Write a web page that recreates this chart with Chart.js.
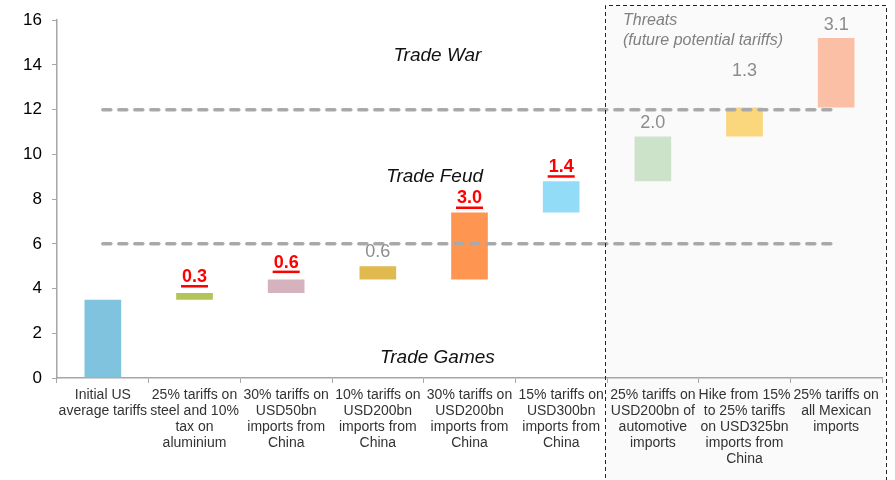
<!DOCTYPE html>
<html>
<head>
<meta charset="utf-8">
<script src="https://cdn.jsdelivr.net/npm/chart.js@4/dist/chart.umd.min.js"></script>
<style>
  html, body { margin: 0; padding: 0; background: #fff; }
  #wrap { width: 895px; height: 480px; position: relative; }
</style>
</head>
<body>
<div id="wrap"><canvas id="tariffChart"></canvas></div>
<script>
const categories = [
	['Initial US', 'average tariffs'],
	['25% tariffs on', 'steel and 10%', 'tax on', 'aluminium'],
	['30% tariffs on', 'USD50bn', 'imports from', 'China'],
	['10% tariffs on', 'USD200bn', 'imports from', 'China'],
	['30% tariffs on', 'USD200bn', 'imports from', 'China'],
	['15% tariffs on', 'USD300bn', 'imports from', 'China'],
	['25% tariffs on', 'USD200bn of', 'automotive', 'imports'],
	['Hike from 15%', 'to 25% tariffs', 'on USD325bn', 'imports from', 'China'],
	['25% tariffs on', 'all Mexican', 'imports']
];
const barStart = [0, 3.5, 3.8, 4.4, 4.4, 7.4, 8.8, 10.8, 12.1];
const barEnd = [3.5, 3.8, 4.4, 5.0, 7.4, 8.8, 10.8, 12.1, 15.2];
const valueLabels = ['', '0.3', '0.6', '0.6', '3.0', '1.4', '2.0', '1.3', '3.1'];
const enacted = [false, true, true, false, true, true, false, false, false];
const thresholds = [6, 12];
const zoneNames = ['Trade Games', 'Trade Feud', 'Trade War'];
const threatTitle = ['Threats', '(future potential tariffs)'];

const barColors = ['#7fc3de', '#b3c459', '#d5b2bd', '#e0b94f', '#fe9652', '#93dcf8', '#cce3c9', '#fad77c', '#fbbfa6'];
const FONT = '"Liberation Sans", Arial, sans-serif';
// distance of value label centre above the bar top
const labelGap = [0, 16, 17, 14, 14, 14, 13, 36, 13];
// zone label placement (category index, y value)
const zonePos = [[3.65, 0.9], [3.62, 9.0], [3.65, 14.4]];

const overlay = {
	id: 'overlay',
	beforeDraw(chart) {
		const ctx = chart.ctx, x = chart.scales.x, area = chart.chartArea;
		const left = x.getPixelForValue(5.5) - 2;
		ctx.save();
		ctx.fillStyle = '#fafafa';
		ctx.fillRect(left, 5, area.right + 5 - left, chart.height);
		ctx.restore();
	},
	afterDatasetsDraw(chart) {
		const ctx = chart.ctx, x = chart.scales.x, y = chart.scales.y, area = chart.chartArea;
		ctx.save();

		// threshold lines
		ctx.strokeStyle = '#a9a9a9';
		ctx.lineWidth = 3.5;
		ctx.lineCap = 'round';
		ctx.setLineDash([8, 8]);
		thresholds.forEach(v => {
			const py = y.getPixelForValue(v);
			ctx.beginPath();
			ctx.moveTo(x.getPixelForValue(0), py);
			ctx.lineTo(x.getPixelForValue(8) - 5, py);
			ctx.stroke();
		});

		// threats box border
		const left = x.getPixelForValue(5.5) - 2;
		ctx.strokeStyle = '#222';
		ctx.lineWidth = 1;
		ctx.lineCap = 'butt';
		ctx.setLineDash([4, 3]);
		ctx.beginPath();
		ctx.moveTo(left + 0.5, chart.height + 5);
		ctx.lineTo(left + 0.5, 5.5);
		ctx.lineTo(area.right + 4.5, 5.5);
		ctx.lineTo(area.right + 4.5, chart.height + 5);
		ctx.stroke();
		ctx.setLineDash([]);

		// threats title
		ctx.fillStyle = '#808080';
		ctx.font = 'italic 16px ' + FONT;
		ctx.textAlign = 'left';
		ctx.textBaseline = 'middle';
		ctx.fillText(threatTitle[0], left + 18, 21);
		ctx.fillText(threatTitle[1], left + 18, 41);

		// zone names
		ctx.fillStyle = '#111';
		ctx.font = 'italic 19px ' + FONT;
		ctx.textAlign = 'center';
		zoneNames.forEach((name, i) => {
			ctx.fillText(name, x.getPixelForValue(zonePos[i][0]), y.getPixelForValue(zonePos[i][1]));
		});

		// value labels
		valueLabels.forEach((txt, i) => {
			if (!txt) return;
			const px = x.getPixelForValue(i);
			const py = y.getPixelForValue(barEnd[i]) - labelGap[i];
			if (enacted[i]) {
				ctx.font = 'bold 18px ' + FONT;
				ctx.fillStyle = '#ff0000';
				ctx.fillText(txt, px, py);
				const w = ctx.measureText(txt).width;
				ctx.fillRect(px - w / 2 - 1, py + 8, w + 2, 2.5);
			} else {
				ctx.font = '18px ' + FONT;
				ctx.fillStyle = '#8c8c8c';
				ctx.fillText(txt, px, py);
			}
		});
		ctx.restore();
	}
};

new Chart(document.getElementById('tariffChart'), {
	type: 'bar',
	data: {
		labels: categories,
		datasets: [{
			data: barStart.map((s, i) => [s, barEnd[i]]),
			backgroundColor: barColors,
			borderWidth: 0,
			barPercentage: 0.4,
			categoryPercentage: 1.0
		}]
	},
	options: {
		responsive: true,
		maintainAspectRatio: false,
		animation: false,
		layout: { padding: { left: 0, top: 20, right: 13, bottom: 0 } },
		plugins: {
			legend: { display: false },
			tooltip: { enabled: false }
		},
		scales: {
			x: {
				afterFit(scale) { scale.height = 102; },
				grid: { drawOnChartArea: false, tickLength: 5, color: '#a6a6a6', offset: true },
				border: { color: '#a6a6a6', width: 1.5 },
				ticks: {
					font: { family: FONT, size: 14, lineHeight: 1.15 },
					color: '#333',
					padding: 4,
					maxRotation: 0,
					autoSkip: false
				}
			},
			y: {
				min: 0,
				max: 16,
				afterFit(scale) { scale.width = 57; },
				grid: { drawOnChartArea: false, tickLength: 5, color: '#a6a6a6' },
				border: { color: '#a6a6a6', width: 1.5 },
				ticks: {
					stepSize: 2,
					font: { family: FONT, size: 17 },
					color: '#000',
					padding: 10
				}
			}
		}
	},
	plugins: [overlay]
});
</script>
</body>
</html>
